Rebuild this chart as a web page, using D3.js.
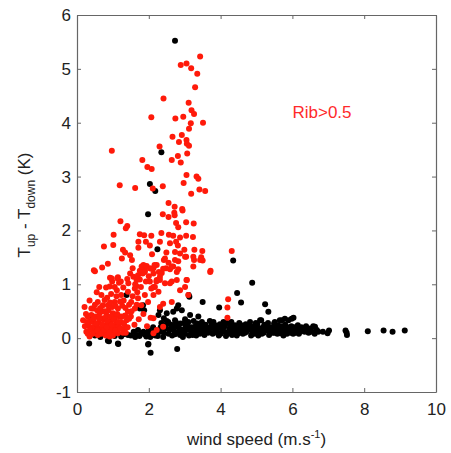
<!DOCTYPE html>
<html>
<head>
<meta charset="utf-8">
<script src="https://cdn.jsdelivr.net/npm/d3@7"></script>
<style>
  body { margin: 0; background: #fff; }
  text { font-family: "Liberation Sans", Arial, Helvetica, sans-serif; }
</style>
</head>
<body>
<div id="chart"></div>
<script>
// tick values
const xTicks = [0, 2, 4, 6, 8, 10];
const yTicks = [-1, 0, 1, 2, 3, 4, 5, 6];

// points with Rib > 0.5 (red), [wind speed, Tup - Tdown]
const redPoints = [
  [2.89,5.07],[3.05,5.10],[3.18,5.01],[3.43,5.23],[3.35,4.91],[3.29,4.66],[2.41,4.45],[3.11,4.37],[3.19,4.23],[3.26,4.16],
  [2.07,4.10],[2.74,4.08],[2.96,4.11],[3.17,3.99],[3.51,4.00],[3.12,3.89],[2.66,3.74],[2.92,3.77],[2.84,3.64],[3.05,3.68],
  [3.06,3.61],[3.12,3.57],[2.30,3.56],[0.97,3.48],[2.81,3.38],[3.07,3.43],[2.64,3.31],[2.89,3.26],[1.82,3.31],[1.96,3.18],
  [2.08,3.14],[3.05,3.03],[3.33,3.00],[3.38,2.96],[2.97,2.88],[1.19,2.84],[1.62,2.79],[2.11,2.78],[2.39,2.82],[3.18,2.68],
  [3.41,2.76],[3.57,2.73],[2.55,2.51],[2.72,2.44],[2.93,2.40],[2.94,2.37],[2.39,2.30],[2.55,2.25],[2.71,2.33],[2.72,2.28],
  [1.21,2.17],[1.40,2.08],[1.36,2.04],[2.76,2.14],[2.82,2.06],[3.04,2.15],[3.25,2.13],
  [1.02,1.92],[0.75,1.70],[1.01,1.73],[1.28,1.64],[1.34,1.59],[1.25,1.48],[1.48,1.54],[1.53,1.45],[1.75,1.93],[1.87,1.91],
  [2.07,1.90],[1.71,1.79],[1.92,1.79],[1.71,1.68],[2.03,1.72],[2.09,1.56],[2.35,1.95],[2.56,1.92],[2.68,1.90],[2.87,1.87],
  [3.04,1.90],[3.23,1.88],[2.31,1.79],[2.59,1.76],[2.76,1.79],[2.81,1.72],[2.49,1.59],[2.73,1.60],[2.87,1.57],[2.99,1.64],
  [3.27,1.64],[3.49,1.62],[2.42,1.45],[2.55,1.40],[2.82,1.43],[3.04,1.51],[3.26,1.45],[3.46,1.50],[3.72,1.25],[4.31,1.62],
  [3.50,1.44],[0.50,1.24],[0.70,1.31],[0.86,1.38],[0.81,0.94],[0.92,1.12],[0.98,1.05],[1.14,1.13],[1.17,1.03],[1.11,0.89],
  [1.29,0.94],[1.43,1.02],[1.65,0.97],[1.75,1.09],[1.83,1.20],[1.89,1.26],[1.48,1.20],[1.57,1.14],[1.66,1.08],[1.75,1.25],
  [1.80,1.33],[1.85,1.36],[1.94,1.34],[2.03,1.30],[2.13,1.30],[2.22,1.36],[2.28,1.23],[2.36,1.21],[2.48,1.30],[2.59,1.28],
  [2.68,1.33],[2.82,1.28],[3.06,1.08],[3.01,0.95],[3.10,0.80],[2.03,1.05],[2.13,0.95],[2.22,1.08],[2.31,1.08],[2.45,1.02],
  [2.59,1.02],[2.78,1.08],[2.87,0.89],[2.45,1.48],[2.73,1.45],[3.01,1.51],[3.24,1.51],[3.43,1.45],[2.40,1.29],[2.64,1.33],
  [2.78,1.23],[3.24,1.33],[3.71,1.23],[2.13,1.20],[2.31,1.14],[2.64,1.05],[3.05,1.08],[2.17,0.95],[2.13,0.80],[2.27,0.86],
  [2.40,0.64],[2.64,0.67],[2.31,0.58],[2.13,0.37],[2.22,0.15],[2.40,0.21],[2.13,0.09],[4.21,0.72],[4.19,0.57],[4.19,0.38],
  [0.47,1.26],[0.96,1.11],[1.12,1.11],[1.22,1.05],[0.91,0.96],[1.05,0.95],[0.68,0.80],[0.77,0.71],[0.58,0.67],[0.72,0.61],
  [0.21,0.58],[0.45,0.55],[0.86,0.61],[1.05,0.67],[1.23,0.80],[1.42,0.86],[1.61,0.92],[1.70,1.17],[1.89,1.23],[2.07,1.29],
  [2.16,1.36],[1.51,0.67],[1.70,0.74],[1.89,0.80],[2.07,0.92],[2.21,1.05],[1.42,0.49],[1.61,0.55],[1.79,0.61],[1.98,0.67],
  [0.17,0.33],[0.31,0.24],[0.26,0.12],[0.45,0.30],[0.49,0.15],[0.58,0.06],[0.68,0.37],[0.77,0.24],[0.86,0.12],[0.96,0.33],
  [1.05,0.21],[1.14,0.09],[1.23,0.30],[1.33,0.18],[0.63,0.46],[0.82,0.43],[1.00,0.46],[1.19,0.40],[0.40,0.43],[0.54,0.21],
  [0.35,0.03],[0.72,0.09],[0.91,0.03],[1.10,0.30],[1.38,0.33],[0.30,0.40],[0.38,0.32],[0.52,0.40],[0.60,0.28],[0.66,0.18],
  [0.74,0.34],[0.80,0.05],[0.88,0.28],[0.94,0.18],[1.02,0.10],[1.08,0.40],[1.16,0.22],[1.28,0.10],[1.34,0.42],[0.42,0.20],
  [0.56,0.52],[0.70,0.50],[0.88,0.52],[0.98,0.58],[1.14,0.55],[1.26,0.60],[0.84,0.75],[0.95,0.82],[1.10,0.78],[1.30,0.70],
  [1.45,0.62],[1.55,0.78],[1.68,0.85],[1.78,0.95],[1.92,1.05],[2.00,1.15],[1.50,0.40],[1.60,0.25],[1.72,0.35],[1.85,0.45],
  [1.95,0.22],[2.05,0.38],[1.40,1.10],[1.55,1.30],[1.62,1.00],[0.62,0.95],[0.55,0.85],[0.35,0.70],[0.25,0.45],[0.30,0.08],
  [0.22,0.22],[0.28,0.30],[0.36,0.16],[0.44,0.08],[0.47,0.36],[0.53,0.27],[0.57,0.14],[0.62,0.36],[0.67,0.08],[0.70,0.25],
  [0.75,0.15],[0.79,0.38],[0.83,0.20],[0.85,0.32],[0.90,0.10],[0.93,0.40],[0.97,0.25],[1.00,0.05],[1.03,0.35],[1.07,0.14],
  [1.12,0.45],[1.15,0.30],[1.20,0.18],[1.25,0.40],[1.31,0.26],[1.36,0.10],[1.41,0.20],[1.45,0.36],[0.40,0.55],[0.50,0.62],
  [0.65,0.56],[0.78,0.50],[0.92,0.66],[1.07,0.60],[1.20,0.68],[1.35,0.56],[1.52,0.50],[1.66,0.62]
];

// remaining points (black)
const blackPoints = [
  [2.73,5.52],[2.35,3.45],[2.03,2.86],[2.18,2.73],[1.98,2.30],[2.24,1.65],[4.35,1.44],[4.88,1.03],[4.46,0.84],[4.57,0.66],
  [3.50,0.67],[3.96,0.57],[5.24,0.63],[5.33,0.49],[5.13,0.33],[5.49,0.27],[5.71,0.33],[5.79,0.36],[5.98,0.36],[6.03,0.38],
  [6.72,0.12],[6.98,0.09],[7.51,0.10],[7.52,0.06],[8.10,0.13],[8.54,0.14],[8.79,0.12],[9.13,0.14],[6.58,0.22],[6.68,0.15],
  [6.30,0.15],[6.38,0.22],[6.49,0.18],
  [0.34,-0.10],[0.42,0.41],[1.15,-0.11],[0.89,-0.06],[1.99,-0.11],[2.05,-0.27],[2.79,-0.20],[1.79,0.56],[1.87,0.52],[3.11,0.80],
  [3.13,0.77],[2.82,0.61],[2.92,0.52],[2.68,0.49],[2.78,0.55],[2.50,0.46],[2.27,0.43],[3.15,0.43],[3.38,0.40],[2.73,0.33],
  [2.54,0.30],[3.01,0.35],[2.31,0.52],[2.42,0.37],[1.38,0.80],[1.75,0.55],[1.84,0.61],[1.65,0.06],[1.79,0.09],[1.93,0.03],
  [2.07,0.06],[2.21,0.09],[0.96,0.06],[1.23,0.03],[1.42,0.06],[0.86,-0.05],[1.14,-0.10],[1.98,-0.12],[2.40,0.02],[2.87,0.06],
  [5.01,0.21],[5.10,0.33],[5.51,0.30],[5.65,0.33],[5.89,0.33],[6.63,0.21],
  [2.30,0.12],[2.45,0.18],[2.55,0.08],[2.62,0.25],[2.70,0.14],[2.80,0.22],[2.90,0.10],[2.98,0.28],[3.05,0.15],[3.12,0.05],
  [3.20,0.20],[3.28,0.12],[3.35,0.27],[3.42,0.08],[3.50,0.18],[3.58,0.25],[3.65,0.10],[3.72,0.20],[3.80,0.30],[3.88,0.14],
  [3.95,0.05],[4.02,0.22],[4.10,0.12],[4.18,0.28],[4.25,0.17],[4.32,0.06],[4.40,0.24],[4.48,0.13],[4.55,0.20],[4.62,0.08],
  [4.70,0.26],[4.78,0.15],[4.85,0.05],[4.92,0.22],[5.00,0.12],[5.08,0.18],[5.15,0.08],[5.22,0.25],[5.30,0.14],[5.38,0.20],
  [5.45,0.10],[5.55,0.18],[5.62,0.12],[5.70,0.22],[5.78,0.14],[5.85,0.08],[5.92,0.20],[6.00,0.15],[6.08,0.10],[6.15,0.24],
  [6.22,0.12],[6.45,0.10],[2.35,0.28],[2.50,0.32],[2.65,0.05],[2.75,0.30],[2.85,0.18],[2.95,0.02],[3.02,0.20],[3.10,0.30],
  [3.18,0.10],[3.25,0.32],[3.32,0.05],[3.40,0.18],[3.48,0.30],[3.55,0.06],[3.62,0.16],[3.70,0.32],[3.78,0.08],[3.85,0.24],
  [3.92,0.18],[4.00,0.08],[4.08,0.30],[4.15,0.04],[4.22,0.12],[4.30,0.30],[4.38,0.15],[4.45,0.05],[4.52,0.28],[4.60,0.15],
  [4.68,0.10],[4.75,0.20],[4.82,0.30],[4.90,0.12],[4.98,0.28],[5.05,0.05],[5.12,0.15],[5.20,0.10],[5.28,0.22],[5.35,0.06],
  [5.42,0.16],[5.50,0.10],[5.58,0.08],[5.68,0.15],[5.75,0.05],[5.82,0.18],[5.95,0.10],[6.05,0.20],[6.12,0.12],[6.20,0.18],
  [0.50,0.05],[0.65,0.02],[0.78,0.08],[1.05,0.04],[1.30,0.07],[1.50,0.05],[1.58,0.12],[1.70,0.15],[1.85,0.12],[2.00,0.14],
  [2.12,0.20],[2.18,0.05],[1.00,0.15],[0.60,0.12],
  [1.62,0.02],[1.74,0.04],[1.88,0.07],[1.96,0.10],[2.04,0.02],[2.15,0.13],[2.25,0.04],[2.33,0.20],[2.42,0.10],[2.48,0.24],
  [2.58,0.16],[2.67,0.22],[2.73,0.07],[2.83,0.12],[2.88,0.27],[2.93,0.15],[3.00,0.08],[3.08,0.24],[3.15,0.16],[3.22,0.06],
  [3.30,0.22],[3.38,0.13],[3.45,0.24],[3.52,0.11],[3.60,0.20],[3.68,0.13],[3.75,0.26],[3.83,0.17],[3.90,0.10],[3.98,0.26],
  [4.05,0.16],[4.12,0.22],[4.20,0.08],[4.28,0.22],[4.35,0.10],[4.42,0.18],[4.50,0.09],[4.58,0.24],[4.65,0.17],[4.72,0.12],
  [4.80,0.22],[4.88,0.16],[4.95,0.08],[5.02,0.26],[5.10,0.12],[5.18,0.20],[5.25,0.15],[5.32,0.28],[5.40,0.11],[5.48,0.20],
  [5.53,0.14],[5.60,0.24],[5.66,0.09],[5.73,0.17],[5.80,0.25],[5.88,0.13],[5.97,0.22],[6.02,0.08],[6.10,0.18],[6.18,0.08],
  [6.25,0.20],[6.34,0.12],[6.42,0.16],[6.55,0.12],[6.62,0.08],[6.85,0.12],[7.02,0.14],[7.48,0.14]
];

const margin = { top: 15, right: 15, bottom: 61, left: 77 };
const width = 451 - margin.left - margin.right;
const height = 453 - margin.top - margin.bottom;

const svg = d3.select("#chart")
    .append("svg")
    .attr("width", 451)
    .attr("height", 453)
    .append("g")
    .attr("transform", `translate(${margin.left},${margin.top})`);

// Scales
const x = d3.scaleLinear().domain([0, 10]).range([0, width]);
const y = d3.scaleLinear().domain([-1, 6]).range([height, 0]);

const axisColor = "#666";
const plainNum = d => String(d);

// axes, ticks pointing inward
const xAxis = d3.axisBottom(x).tickValues(xTicks).tickFormat(plainNum)
    .tickSizeInner(-4).tickSizeOuter(0).tickPadding(11);
const yAxis = d3.axisLeft(y).tickValues(yTicks).tickFormat(plainNum)
    .tickSizeInner(-4).tickSizeOuter(0).tickPadding(6);

svg.append("g")
    .attr("transform", `translate(0,${height})`)
    .call(xAxis);
svg.append("g").call(yAxis);

// mirrored ticks on top and right
svg.append("g")
    .call(d3.axisTop(x).tickValues(xTicks).tickSizeInner(-4).tickSizeOuter(0).tickFormat(""));
svg.append("g")
    .attr("transform", `translate(${width},0)`)
    .call(d3.axisRight(y).tickValues(yTicks).tickSizeInner(-4).tickSizeOuter(0).tickFormat(""));

svg.selectAll(".domain").attr("stroke", axisColor).attr("stroke-width", 1.2);
svg.selectAll(".tick line").attr("stroke", axisColor);
svg.selectAll(".tick text")
    .attr("fill", "#222")
    .style("font-size", "17px")
    .style("font-family", "'Liberation Sans', Arial, sans-serif");

// points: black first, red on top
svg.append("g").selectAll("circle")
    .data(blackPoints)
    .join("circle")
    .attr("cx", d => x(d[0]))
    .attr("cy", d => y(d[1]))
    .attr("r", 3)
    .attr("fill", "#000");

svg.append("g").selectAll("circle")
    .data(redPoints)
    .join("circle")
    .attr("cx", d => x(d[0]))
    .attr("cy", d => y(d[1]))
    .attr("r", 3)
    .attr("fill", "#ff1a0a");

// annotation
svg.append("text")
    .attr("x", 322 - margin.left)
    .attr("y", 118 - margin.top)
    .attr("text-anchor", "middle")
    .attr("fill", "#ff2a2a")
    .style("font-size", "17px")
    .text("Rib>0.5");

// x label
const xLabel = svg.append("text")
    .attr("x", width / 2)
    .attr("y", 445 - margin.top)
    .attr("text-anchor", "middle")
    .attr("fill", "#222")
    .style("font-size", "17px");
xLabel.append("tspan").text("wind speed (m.s");
xLabel.append("tspan").attr("dy", -7).style("font-size", "11px").text("-1");
xLabel.append("tspan").attr("dy", 7).text(")");

// y label
const yLabel = svg.append("text")
    .attr("transform", "rotate(-90)")
    .attr("x", -(205 - margin.top))
    .attr("y", 30 - margin.left)
    .attr("text-anchor", "middle")
    .attr("fill", "#222")
    .style("font-size", "17px");
yLabel.append("tspan").text("T");
yLabel.append("tspan").attr("dy", 5).style("font-size", "12px").text("up");
yLabel.append("tspan").attr("dy", -5).text(" - T");
yLabel.append("tspan").attr("dy", 5).style("font-size", "12px").text("down");
yLabel.append("tspan").attr("dy", -5).text(" (K)");
</script>
</body>
</html>
